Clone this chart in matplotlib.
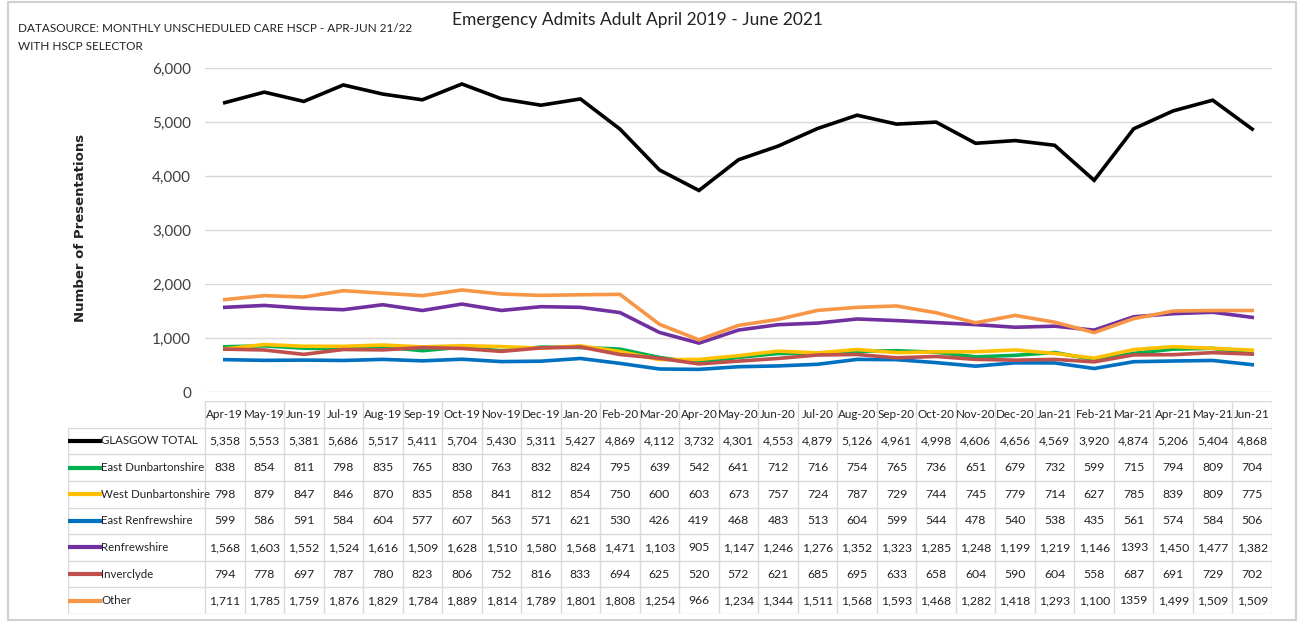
import matplotlib
matplotlib.use("Agg")
import matplotlib.pyplot as plt
from matplotlib.patches import Rectangle
from matplotlib.lines import Line2D

months = ["Apr-19", "May-19", "Jun-19", "Jul-19", "Aug-19", "Sep-19", "Oct-19", "Nov-19",
          "Dec-19", "Jan-20", "Feb-20", "Mar-20", "Apr-20", "May-20", "Jun-20", "Jul-20",
          "Aug-20", "Sep-20", "Oct-20", "Nov-20", "Dec-20", "Jan-21", "Feb-21", "Mar-21",
          "Apr-21", "May-21", "Jun-21"]

glasgow = [5358, 5553, 5381, 5686, 5517, 5411, 5704, 5430, 5311, 5427, 4869, 4112, 3732, 4301,
           4553, 4879, 5126, 4961, 4998, 4606, 4656, 4569, 3920, 4874, 5206, 5404, 4868]
east_dunb = [838, 854, 811, 798, 835, 765, 830, 763, 832, 824, 795, 639, 542, 641, 712, 716,
             754, 765, 736, 651, 679, 732, 599, 715, 794, 809, 704]
west_dunb = [798, 879, 847, 846, 870, 835, 858, 841, 812, 854, 750, 600, 603, 673, 757, 724,
             787, 729, 744, 745, 779, 714, 627, 785, 839, 809, 775]
east_renf = [599, 586, 591, 584, 604, 577, 607, 563, 571, 621, 530, 426, 419, 468, 483, 513,
             604, 599, 544, 478, 540, 538, 435, 561, 574, 584, 506]
renfrew = [1568, 1603, 1552, 1524, 1616, 1509, 1628, 1510, 1580, 1568, 1471, 1103, 905, 1147,
           1246, 1276, 1352, 1323, 1285, 1248, 1199, 1219, 1146, 1393, 1450, 1477, 1382]
inverclyde = [794, 778, 697, 787, 780, 823, 806, 752, 816, 833, 694, 625, 520, 572, 621, 685,
              695, 633, 658, 604, 590, 604, 558, 687, 691, 729, 702]
other = [1711, 1785, 1759, 1876, 1829, 1784, 1889, 1814, 1789, 1801, 1808, 1254, 966, 1234,
         1344, 1511, 1568, 1593, 1468, 1282, 1418, 1293, 1100, 1359, 1499, 1509, 1509]

series_names = ["GLASGOW TOTAL", "East Dunbartonshire", "West Dunbartonshire",
                "East Renfrewshire", "Renfrewshire", "Inverclyde", "Other"]
series_values = [glasgow, east_dunb, west_dunb, east_renf, renfrew, inverclyde, other]
series_colors = ["#000000", "#00B050", "#FFC000", "#0070C0", "#7030A0", "#C0504D", "#F79646"]
# (row, column) cells printed without a thousands separator in the source table
plain_cells = {(5, 23), (7, 23)}

plt.rcParams["font.family"] = ["Lato", "DejaVu Sans"]

W, H = 1300, 623
fig = plt.figure(figsize=(W / 100, H / 100), dpi=100)


def fx(px):
    return px / W


def fy(py):
    return 1 - py / H


# outer frame
fig.patches.append(Rectangle((fx(8), fy(620)), fx(1288), 618 / H, transform=fig.transFigure,
                             fill=False, edgecolor="#D0D0D0", lw=1.5))

# plot area
left, right = 205, 1272
ax = fig.add_axes([fx(left), fy(392), fx(right - left), (392 - 68) / H])
n = len(months)
xs = list(range(n))
for name, vals, c in zip(series_names, series_values, series_colors):
    ax.plot(xs, vals, color=c, lw=2.6, solid_joinstyle="miter", zorder=3)
ax.set_xlim(-0.5, n - 0.5)
ax.set_ylim(0, 6000)
ax.set_yticks(range(0, 6001, 1000))
ax.set_yticklabels(["0"] + [f"{v:,}" for v in range(1000, 6001, 1000)])
ax.tick_params(axis="y", length=0, labelsize=11, colors="#404040", pad=10)
ax.set_xticks([])
ax.grid(axis="y", color="#D9D9D9", lw=1)
ax.set_axisbelow(True)
for s in ax.spines.values():
    s.set_visible(False)

fig.text(fx(80), fy(228), "Number of Presentations", rotation=90, ha="center", va="center",
         fontsize=9.5, fontweight="bold", family="DejaVu Sans", color="#222222")
fig.text(fx(637), fy(20), "Emergency Admits Adult April 2019 - June 2021", ha="center",
         va="center", fontsize=12.5, color="#222222")
fig.text(fx(18), fy(28), "DATASOURCE: MONTHLY UNSCHEDULED CARE HSCP - APR-JUN 21/22",
         ha="left", va="center", fontsize=8.5, color="#222222")
fig.text(fx(18), fy(47), "WITH HSCP SELECTOR", ha="left", va="center", fontsize=8.5,
         color="#222222")

# data table
tab_left, tab_top, tab_bot = 68, 401, 614
unit = (right - left) / n
x0 = -0.5 - (left - tab_left) / unit
tax = fig.add_axes([fx(tab_left), fy(tab_bot), fx(right - tab_left), (tab_bot - tab_top) / H])
nrows = len(series_names) + 1
tax.set_xlim(x0, n - 0.5)
tax.set_ylim(nrows, 0)
tax.axis("off")
gc = "#D9D9D9"
tax.plot([-0.5, n - 0.5], [0, 0], color=gc, lw=1)
for r in range(1, nrows + 1):
    tax.plot([x0, n - 0.5], [r, r], color=gc, lw=1)
tax.plot([x0, x0], [1, nrows], color=gc, lw=1)
for i in range(n + 1):
    tax.plot([i - 0.5, i - 0.5], [0, nrows], color=gc, lw=1)

for i, m in enumerate(months):
    tax.text(i, 0.5, m, ha="center", va="center", fontsize=8.4, color="#222222")
for r, (name, vals, c) in enumerate(zip(series_names, series_values, series_colors), start=1):
    tax.add_line(Line2D([x0 + 0.06, x0 + 0.8], [r + 0.5, r + 0.5], color=c, lw=3))
    tax.text(x0 + 0.84, r + 0.5, name, ha="left", va="center", fontsize=8.3, color="#222222")
    for i, v in enumerate(vals):
        s = str(v) if (r, i) in plain_cells else f"{v:,}"
        tax.text(i, r + 0.5, s, ha="center", va="center", fontsize=8.8, color="#222222")

fig.savefig("out.png", dpi=100)
